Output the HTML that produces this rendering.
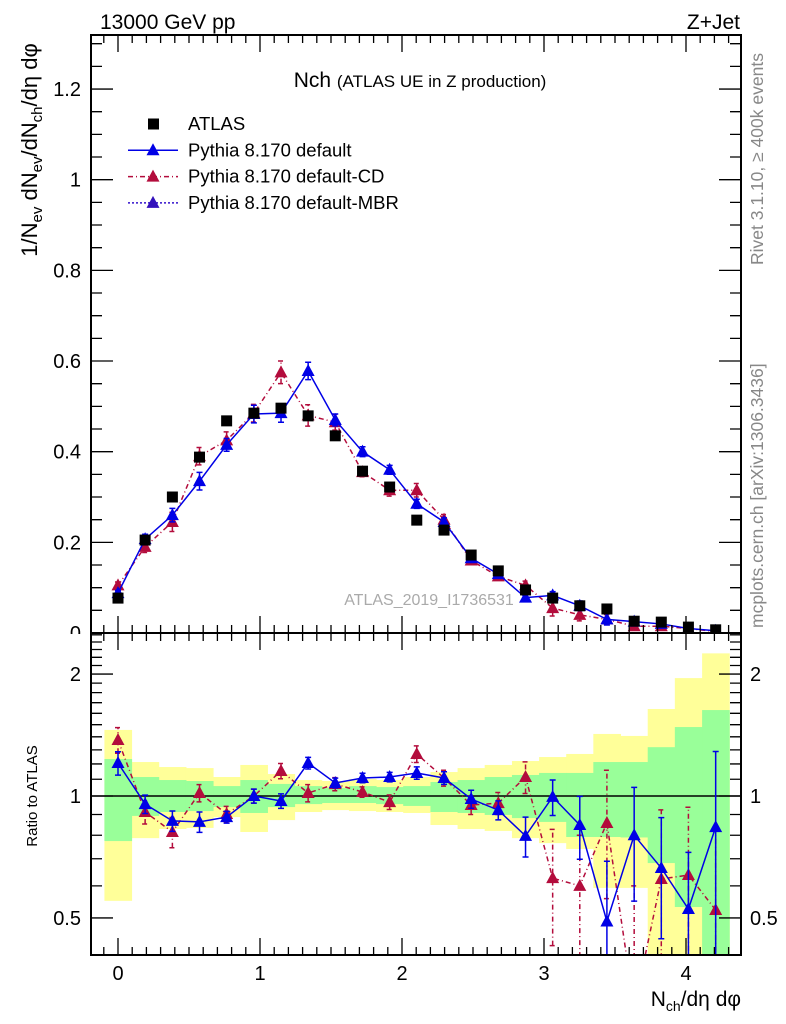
<!DOCTYPE html>
<html><head><meta charset="utf-8"><style>
html,body{margin:0;padding:0;background:#fff;overflow:hidden;width:786px;height:1024px;}
svg{display:block;font-family:"Liberation Sans",sans-serif;}
</style></head><body>
<svg id="chart" width="786" height="1024" viewBox="0 0 786 1024" xmlns="http://www.w3.org/2000/svg">
<defs>
<clipPath id="mainClip"><rect x="91" y="35" width="650" height="598"/></clipPath>
<clipPath id="ratioClip"><rect x="91" y="634" width="650" height="320"/></clipPath>
</defs>
<g id="bands" clip-path="url(#ratioClip)"></g>
<g id="ratioLayer" clip-path="url(#ratioClip)"></g>
<g id="mainLayer" clip-path="url(#mainClip)"></g>
<g id="axes"></g>
<text x="100" y="29" font-size="21">13000 GeV pp</text>
<text x="740" y="29" font-size="21" text-anchor="end">Z+Jet</text>
<text x="420" y="87" font-size="21" text-anchor="middle">Nch <tspan font-size="17">(ATLAS UE in Z production)</tspan></text>
<text transform="translate(763,265) rotate(-90)" font-size="17.5" fill="#888">Rivet 3.1.10, ≥ 400k events</text>
<text transform="translate(763,628) rotate(-90)" font-size="17.5" fill="#888">mcplots.cern.ch [arXiv:1306.3436]</text>
<text x="429" y="605" font-size="16" fill="#aaa" text-anchor="middle">ATLAS_2019_I1736531</text>
<text transform="translate(37,150) rotate(-90)" font-size="22" text-anchor="middle">1/N<tspan font-size="15" dy="5">ev</tspan><tspan dy="-5"> dN</tspan><tspan font-size="15" dy="5">ev</tspan><tspan dy="-5">/dN</tspan><tspan font-size="15" dy="5">ch</tspan><tspan dy="-5">/dη dφ</tspan></text>
<text transform="translate(37,796) rotate(-90)" font-size="15" text-anchor="middle">Ratio to ATLAS</text>
<text x="741" y="1006" font-size="21" text-anchor="end">N<tspan font-size="14" dy="5">ch</tspan><tspan dy="-5">/dη dφ</tspan></text>
<g id="legend"></g>
</svg>
<script>
const nchBins=[0,0.191,0.383,0.574,0.765,0.957,1.148,1.339,1.530,1.722,1.913,2.104,2.296,2.487,2.678,2.870,3.061,3.252,3.443,3.635,3.826,4.017,4.209];
const atlasValues=[0.077,0.205,0.300,0.388,0.468,0.485,0.496,0.479,0.435,0.357,0.322,0.249,0.227,0.172,0.137,0.095,0.077,0.060,0.053,0.026,0.024,0.013,0.007];
const defaultValues=[0.088,0.207,0.260,0.335,0.415,0.483,0.485,0.578,0.470,0.400,0.360,0.285,0.245,0.165,0.130,0.078,0.083,0.060,0.030,0.025,0.020,0.010,0.005];
const cdValues=[0.105,0.190,0.245,0.390,0.425,0.485,0.575,0.480,0.465,0.355,0.315,0.315,0.250,0.160,0.125,0.105,0.055,0.040,0.030,0.015,0.015,0.010,0.003];
const defaultRatio=[1.206,0.955,0.868,0.863,0.887,1.0,0.972,1.206,1.077,1.108,1.114,1.14,1.108,0.983,0.923,0.797,0.995,0.848,0.49,0.80,0.664,0.526,0.838];
const cdRatio=[1.375,0.913,0.815,1.017,0.903,1.0,1.153,1.017,1.07,1.023,0.966,1.27,1.108,0.95,0.96,1.114,0.627,0.60,0.858,0.3,0.624,0.638,0.523];
const defaultRatioErr=[0.08,0.05,0.05,0.05,0.03,0.04,0.04,0.04,0.03,0.03,0.03,0.04,0.04,0.05,0.05,0.09,0.1,0.15,0.2,0.25,0.22,0.2,0.45];
const cdRatioErr=[0.1,0.06,0.07,0.05,0.04,0.04,0.05,0.05,0.04,0.03,0.04,0.06,0.05,0.05,0.06,0.1,0.2,0.2,0.3,0.3,0.3,0.3,0.3];
const band1Hi=[1.234,1.114,1.095,1.089,1.058,1.095,1.071,1.058,1.046,1.058,1.052,1.058,1.083,1.095,1.114,1.127,1.14,1.14,1.213,1.213,1.32,1.48,1.63];
const band1Lo=[0.774,0.893,0.913,0.918,0.939,0.908,0.939,0.955,0.961,0.961,0.955,0.945,0.913,0.908,0.898,0.882,0.863,0.792,0.792,0.79,0.683,0.532,0.3];
const band2Hi=[1.456,1.213,1.179,1.172,1.114,1.193,1.133,1.095,1.089,1.101,1.095,1.114,1.146,1.172,1.193,1.22,1.248,1.27,1.423,1.407,1.64,1.955,2.25];
const band2Lo=[0.551,0.787,0.829,0.834,0.887,0.815,0.872,0.913,0.923,0.918,0.913,0.908,0.848,0.829,0.820,0.787,0.765,0.74,0.593,0.593,0.3,0.3,0.3];
const mainYTicks=[0,0.2,0.4,0.6,0.8,1,1.2];
const mainYTickLabels=["0","0.2","0.4","0.6","0.8","1","1.2"];
const ratioTicks=[0.5,1,2];
const ratioTickLabels=["0.5","1","2"];
const xTicks=[0,1,2,3,4];
const xTickLabels=["0","1","2","3","4"];

const NS="http://www.w3.org/2000/svg";
const X0=91,X1=741,MT=35,MB=633,RB=955;
const xS=v=>118+v*142;
const yM=v=>633-v*453.3;
const yR=r=>796-405*Math.log10(r);
const HW=0.0956;
function mk(tag,attrs,parent){const e=document.createElementNS(NS,tag);for(const k in attrs)e.setAttribute(k,attrs[k]);parent.appendChild(e);return e;}
const bands=document.getElementById('bands'),ratioL=document.getElementById('ratioLayer'),mainL=document.getElementById('mainLayer'),axes=document.getElementById('axes'),leg=document.getElementById('legend');

nchBins.forEach((c,i)=>{
  const xa=xS(c-HW),xb=xS(c+HW);
  const y=mk('rect',{x:xa,y:yR(band2Hi[i]),width:xb-xa+0.5,height:yR(band2Lo[i])-yR(band2Hi[i]),fill:'#ffff99'},bands);
  
  
});
nchBins.forEach((c,i)=>{
  const xa=xS(c-HW),xb=xS(c+HW);
  const g=mk('rect',{x:xa,y:yR(band1Hi[i]),width:xb-xa+0.5,height:yR(band1Lo[i])-yR(band1Hi[i]),fill:'#99ff99'},bands);
  
  
});
const one=mk('line',{x1:X0,x2:X1,y1:yR(1),y2:yR(1),stroke:'#000','stroke-width':1.5},ratioL);



function tri(x,y,col,parent,name){
  const p=mk('polygon',{points:`${x},${y-7} ${x-6.5},${y+5} ${x+6.5},${y+5}`,fill:col},parent);
  
  
}
function series(vals,errs,ys,col,dash,parent,name){
  const pts=nchBins.map((c,i)=>xS(c)+','+ys(vals[i])).join(' ');
  const l=mk('polyline',{points:pts,fill:'none',stroke:col,'stroke-width':1.5},parent);
  if(dash)l.setAttribute('stroke-dasharray',dash);
  
  
  nchBins.forEach((c,i)=>{
    const x=xS(c),lo=Math.max(vals[i]-errs[i],0.01),hi=vals[i]+errs[i];
    const e=mk('path',{d:`M${x},${ys(lo)}V${ys(hi)}M${x-3},${ys(lo)}h6M${x-3},${ys(hi)}h6`,stroke:col,'stroke-width':1.5,fill:'none'},parent);
    if(dash)e.setAttribute('stroke-dasharray',dash);
    
    
    tri(x,ys(vals[i]),col,parent,name+'-point');
  });
}
const BLUE='#0000e6',RED='#b30c3c';
series(cdRatio,cdRatioErr,yR,RED,'5,3,1,3',ratioL,'cd-ratio');
series(defaultRatio,defaultRatioErr,yR,BLUE,null,ratioL,'default-ratio');
const cdMainErr=cdValues.map((v,i)=>v*cdRatioErr[i]/cdRatio[i]);
const defMainErr=defaultValues.map((v,i)=>v*defaultRatioErr[i]/defaultRatio[i]);
series(cdValues,cdMainErr,yM,RED,'5,3,1,3',mainL,'cd');
series(defaultValues,defMainErr,yM,BLUE,null,mainL,'default');
nchBins.forEach((c,i)=>{
  const s=mk('rect',{x:xS(c)-5.5,y:yM(atlasValues[i])-5.5,width:11,height:11,fill:'#000'},mainL);
  
  
});

const f1=mk('rect',{x:X0,y:MT,width:X1-X0,height:MB-MT,fill:'none',stroke:'#000','stroke-width':2},axes);

const f2=mk('rect',{x:X0,y:MB,width:X1-X0,height:RB-MB,fill:'none',stroke:'#000','stroke-width':2},axes);

let d='';
for(let k=0;k<=26;k++){const v=k*0.05,y=yM(v);if(y<MT)break;const L=(k%4==0)?22:11;d+=`M${X0},${y}h${L}M${X1},${y}h${-L}`;}
for(let k=-1;k<=43;k++){const v=k*0.1,x=xS(v);if(x<=X0||x>=X1)continue;const L=(k%10==0)?17:8;d+=`M${x},${MT}v${L}M${x},${MB}v${-L}M${x},${MB}v${L}M${x},${RB}v${-L}`;}
const rt=[0.5,0.6,0.7,0.8,0.9,1,1.1,1.2,1.3,1.4,1.5,1.6,1.7,1.8,1.9,2,2.1,2.2,2.3,2.4,2.5];
rt.forEach(r=>{const y=yR(r);if(y<MB+1)return;const L=ratioTicks.includes(r)?22:11;d+=`M${X0},${y}h${L}M${X1},${y}h${-L}`;});
const tk=mk('path',{d:d,stroke:'#000','stroke-width':1.3,fill:'none'},axes);

mainYTicks.forEach((v,i)=>{
  const t=mk('text',{x:81,y:yM(v)+7,'font-size':20,'text-anchor':'end'},axes);t.textContent=mainYTickLabels[i];
  
});
const cover=mk('rect',{x:60,y:MB+1,width:30,height:12,fill:'#fff'},axes);

ratioTicks.forEach((v,i)=>{
  const t=mk('text',{x:81,y:yR(v)+7,'font-size':20,'text-anchor':'end'},axes);t.textContent=ratioTickLabels[i];
  
  const t2=mk('text',{x:750,y:yR(v)+7,'font-size':20},axes);t2.textContent=ratioTickLabels[i];
  
});
xTicks.forEach((v,i)=>{
  const t=mk('text',{x:xS(v),y:980,'font-size':20,'text-anchor':'middle'},axes);t.textContent=xTickLabels[i];
  
});

const legItems=[["ATLAS",null,null,'#000'],["Pythia 8.170 default",BLUE,null,BLUE],["Pythia 8.170 default-CD",RED,'5,3,1,3',RED],["Pythia 8.170 default-MBR",'#3311cc','2,2','#3311bb']];
legItems.forEach((it,i)=>{
  const y=124+i*26.3;
  if(it[1]){
    const l=mk('line',{x1:128,x2:178,y1:y,y2:y,stroke:it[1],'stroke-width':1.5},leg);
    if(it[2])l.setAttribute('stroke-dasharray',it[2]);
    
    tri(153,y,it[3],leg,'legend-marker');
  } else {
    const s=mk('rect',{x:148,y:y-5.5,width:11,height:11,fill:'#000'},leg);
    
  }
  const t=mk('text',{x:188,y:y+6,'font-size':18.5},leg);t.textContent=it[0];
  
});
</script>
</body></html>
